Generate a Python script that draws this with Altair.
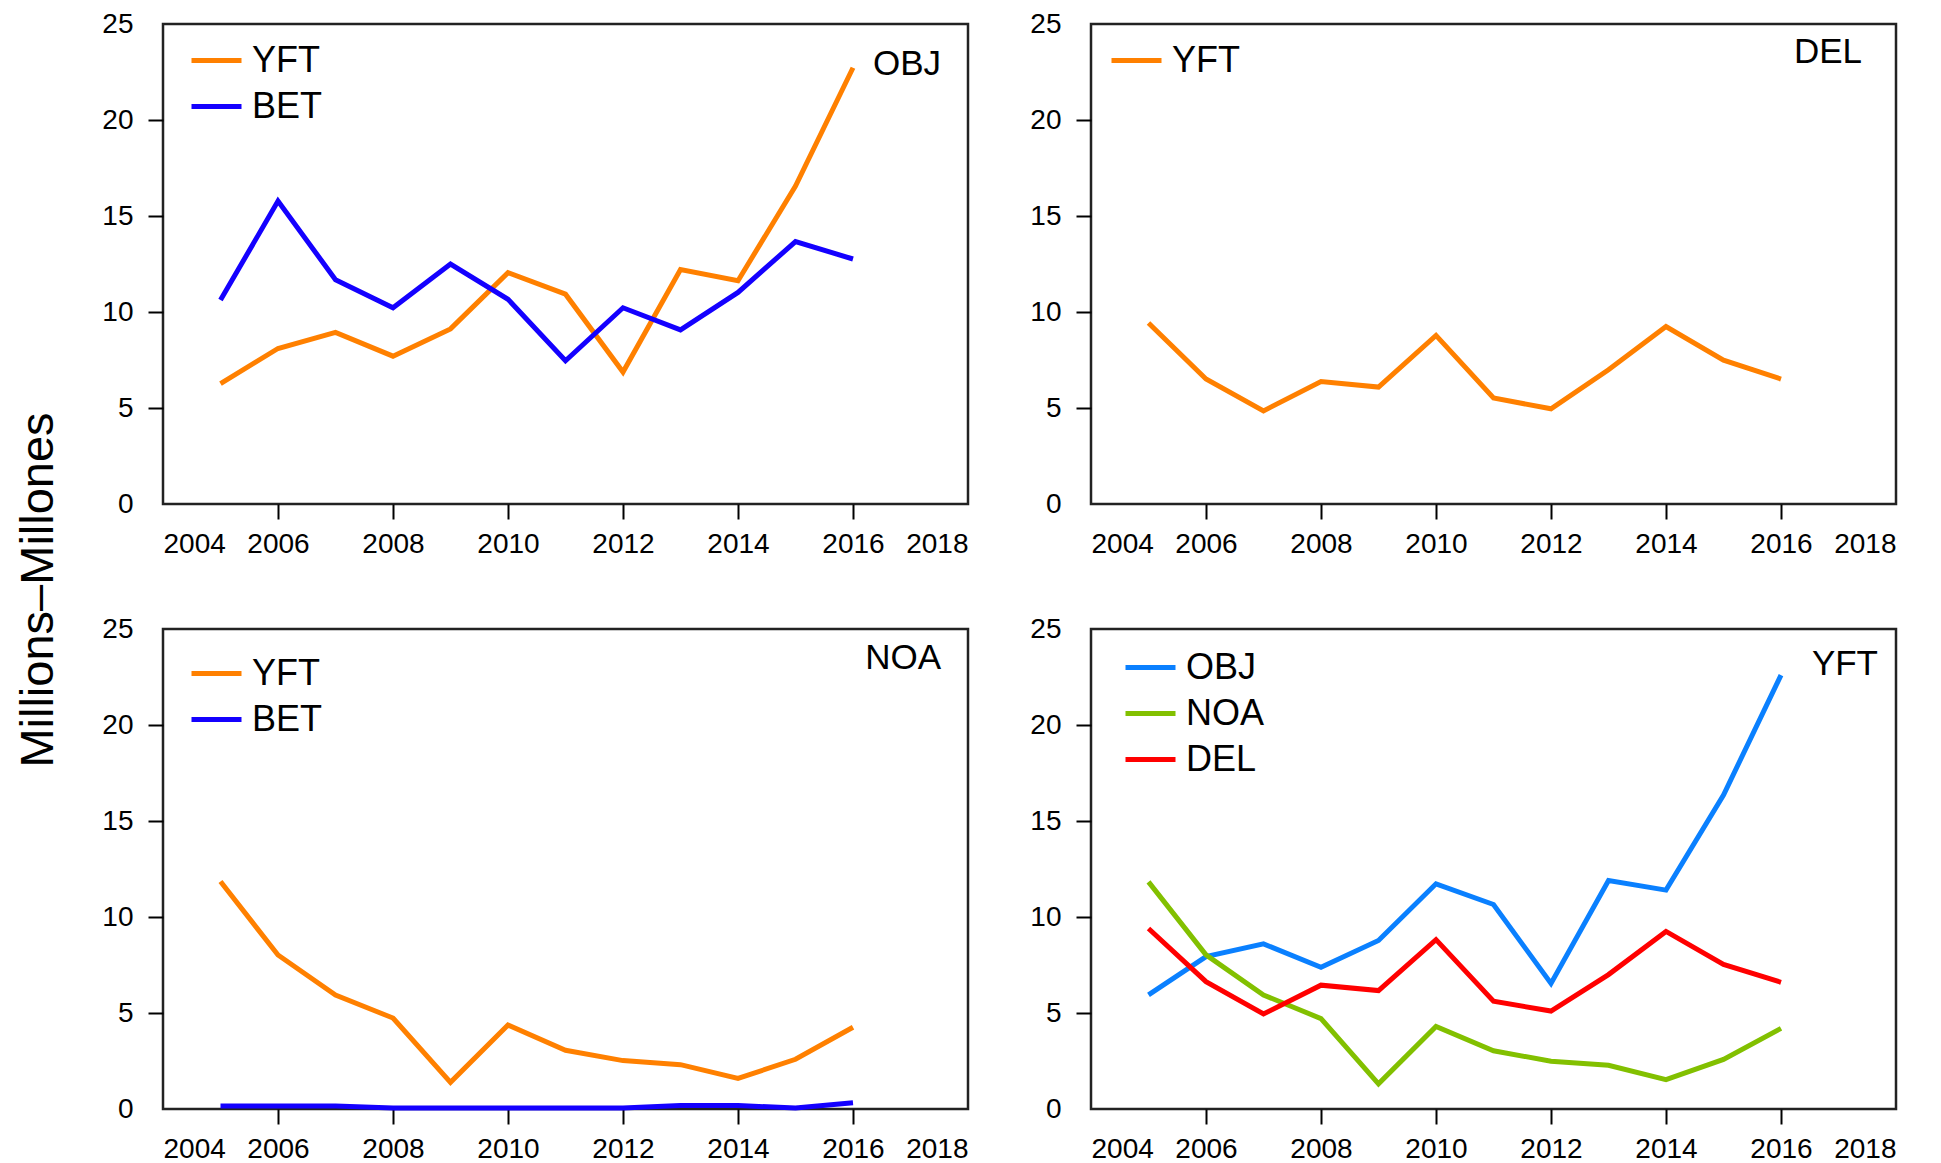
import altair as alt
import pandas as pd

years = list(range(2005, 2017))

# Top-left: OBJ
obj_yft = [6.27, 8.10, 8.94, 7.70, 9.12, 12.05, 10.93, 6.87, 12.21, 11.63, 16.56, 22.72]
obj_bet = [10.62, 15.78, 11.68, 10.22, 12.50, 10.66, 7.46, 10.22, 9.07, 11.02, 13.67, 12.76]
# Top-right: DEL
del_yft = [9.43, 6.51, 4.85, 6.38, 6.09, 8.78, 5.52, 4.96, 6.99, 9.24, 7.49, 6.51]
# Bottom-left: NOA
noa_yft = [11.85, 8.02, 5.94, 4.74, 1.39, 4.37, 3.06, 2.52, 2.31, 1.59, 2.59, 4.26]
noa_bet = [0.15, 0.15, 0.15, 0.05, 0.05, 0.05, 0.05, 0.05, 0.18, 0.18, 0.05, 0.33]
# Bottom-right: YFT by set type
yft_obj = [5.94, 7.94, 8.60, 7.38, 8.78, 11.73, 10.65, 6.54, 11.90, 11.40, 16.35, 22.60]
yft_noa = [11.83, 8.03, 5.94, 4.71, 1.31, 4.30, 3.03, 2.49, 2.28, 1.53, 2.58, 4.20]
yft_del = [9.40, 6.63, 4.95, 6.45, 6.17, 8.82, 5.61, 5.10, 7.00, 9.25, 7.53, 6.60]

x_ticks = [2004, 2006, 2008, 2010, 2012, 2014, 2016, 2018]
y_ticks = [0, 5, 10, 15, 20, 25]
y_title = "Millions\u2013Millones"

ORANGE = "#FF8000"
BLUE = "#1400FF"
LBLUE = "#0A80FF"
GREEN = "#82C000"
RED = "#FF0000"

FONT = "Liberation Sans"
PW, PH = 805, 480


def panel(series, order, colors, label, lab_x, lab_y, leg_x, leg_y):
    rows = []
    for name in order:
        for yr, v in zip(years, series[name]):
            rows.append({"year": yr, "value": v, "series": name})
    df = pd.DataFrame(rows)
    lines = alt.Chart(df).mark_line(strokeWidth=5).encode(
        x=alt.X("year:Q",
                scale=alt.Scale(domain=[2004, 2018], nice=False, zero=False),
                axis=alt.Axis(values=x_ticks, format="d", title=None,
                              labelPadding=11,
                              tickOpacity={"condition": {"test": "datum.value == 2004 || datum.value == 2018", "value": 0}, "value": 1})),
        y=alt.Y("value:Q",
                scale=alt.Scale(domain=[0, 25], nice=False),
                axis=alt.Axis(values=y_ticks, title=None, labelPadding=15,
                              tickOpacity={"condition": {"test": "datum.value == 0 || datum.value == 25", "value": 0}, "value": 1})),
        color=alt.Color("series:N",
                        scale=alt.Scale(domain=order, range=colors),
                        sort=order,
                        legend=alt.Legend(orient="none", legendX=leg_x, legendY=leg_y,
                                          title=None, symbolType="stroke",
                                          symbolSize=2500, symbolStrokeWidth=5,
                                          labelFontSize=36, labelFont=FONT,
                                          labelColor="black", labelOffset=8,
                                          rowPadding=-11, padding=0)),
        order=alt.Order("year:Q"),
    )
    txt = alt.Chart(pd.DataFrame({"t": [label]})).mark_text(
        fontSize=35, font=FONT, align="right", baseline="middle", color="black"
    ).encode(text="t:N", x=alt.value(lab_x), y=alt.value(lab_y))
    return alt.layer(lines, txt).properties(width=PW, height=PH)


p1 = panel({"YFT": obj_yft, "BET": obj_bet}, ["YFT", "BET"], [ORANGE, BLUE],
           "OBJ", 778, 40, 26, 9)
p2 = panel({"YFT": del_yft}, ["YFT"], [ORANGE],
           "DEL", 771, 28, 18, 9)
p3 = panel({"YFT": noa_yft, "BET": noa_bet}, ["YFT", "BET"], [ORANGE, BLUE],
           "NOA", 778, 29, 26, 17)
p4 = panel({"OBJ": yft_obj, "NOA": yft_noa, "DEL": yft_del}, ["OBJ", "NOA", "DEL"],
           [LBLUE, GREEN, RED], "YFT", 787, 35, 32, 11)

res = dict(color="independent", x="independent", y="independent")

row1 = alt.hconcat(p1, p2, spacing=58).resolve_scale(**res).resolve_legend(color="independent")
row2 = alt.hconcat(p3, p4, spacing=58).resolve_scale(**res).resolve_legend(color="independent")
grid = alt.vconcat(row1, row2, spacing=53).resolve_scale(**res).resolve_legend(color="independent")

title_chart = alt.Chart(pd.DataFrame({"t": [y_title]})).mark_text(
    fontSize=47, font=FONT, angle=270, align="center", baseline="alphabetic", color="black"
).encode(text="t:N", x=alt.value(45), y=alt.value(566)).properties(
    width=60, height=1080, view=alt.ViewBackground(stroke="transparent", strokeWidth=0)
)

chart = alt.hconcat(title_chart, grid, spacing=32).resolve_scale(**res).resolve_legend(
    color="independent"
).properties(padding=0).configure_view(
    stroke="#222222", strokeWidth=2.5
).configure_axis(
    labelFont=FONT, labelFontSize=28, labelColor="black",
    tickColor="black", tickWidth=2, tickSize=15,
    domain=False, grid=False
)

chart.save("out.html", embed_options={"renderer": "svg", "actions": False})
